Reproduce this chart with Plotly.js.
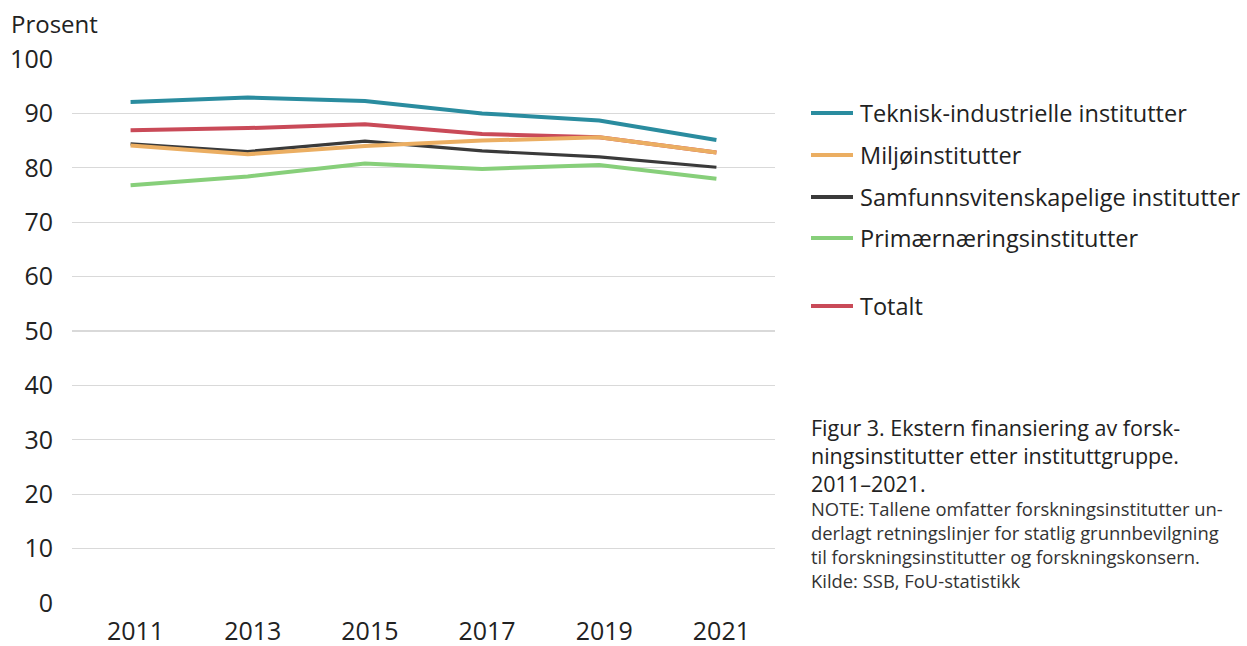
<!DOCTYPE html>
<html><head><meta charset="utf-8">
<script src="https://cdn.plot.ly/plotly-3.0.1.min.js"></script>
<style>body{margin:0;background:#fff}#c{width:1247px;height:646px}</style>
</head><body><div id="c"></div>
<script>
const years = ['2011','2013','2015','2017','2019','2021'];
const names = ['Teknisk-industrielle institutter','Miljøinstitutter','Samfunnsvitenskapelige institutter','Primærnæringsinstitutter','Totalt'];
const teknisk = [92.1, 92.9, 92.3, 90.0, 88.7, 85.1];
const miljo   = [84.1, 82.5, 84.0, 85.0, 85.6, 82.8];
const samfunn = [84.4, 83.0, 84.9, 83.1, 82.0, 80.1];
const primaer = [76.8, 78.4, 80.8, 79.8, 80.5, 78.0];
const totalt  = [86.9, 87.3, 88.0, 86.2, 85.6, 82.8];
const series = [teknisk, miljo, samfunn, primaer, totalt];
const colors = ['#2a8c9f','#ebae62','#3a3a3a','#87cf7a','#c94a58'];
const widths = [4, 4, 3.2, 4, 4];
const drawOrder = [3, 4, 0, 2, 1];
const FONT = '"Open Sans", "Noto Sans", sans-serif';
const TXT = '#222';

const traces = drawOrder.map(i => ({
  x: years, y: series[i], type: 'scatter', mode: 'lines', name: names[i],
  line: {color: colors[i], width: widths[i]}, showlegend: false, hoverinfo: 'skip'
}));

const L = 72, T = 59, W = 703, H = 544;
const px = x => (x - L) / W;
const py = y => (T + H - y) / H;

// manual legend
const legendY = [113, 155, 197, 238, 306];
const shapes = [], annotations = [];
names.forEach((n, i) => {
  shapes.push({type:'line', xref:'paper', yref:'paper', x0: px(811), x1: px(853),
    y0: py(legendY[i]), y1: py(legendY[i]), line:{color: colors[i], width: 4}});
  annotations.push({xref:'paper', yref:'paper', x: px(858), y: py(legendY[i]),
    xanchor:'left', yanchor:'middle', showarrow:false, text:n, font:{family:FONT,size:23.5,color:TXT}});
});
annotations.push({xref:'paper', yref:'paper', x: px(9), y: py(23), xanchor:'left', yanchor:'middle',
  showarrow:false, text:'Prosent', font:{family:FONT,size:24,color:TXT}});
annotations.push({xref:'paper', yref:'paper', x: px(809), y: py(411), xanchor:'left', yanchor:'top',
  showarrow:false, align:'left',
  text:'Figur 3. Ekstern finansiering av forsk-<br>ningsinstitutter etter instituttgruppe.<br>2011–2021.',
  font:{family:FONT,size:21.5,color:TXT}});
annotations.push({xref:'paper', yref:'paper', x: px(809), y: py(494), xanchor:'left', yanchor:'top',
  showarrow:false, align:'left',
  text:'NOTE: Tallene omfatter forskningsinstitutter un-<br>derlagt retningslinjer for statlig grunnbevilgning<br>til forskningsinstitutter og forskningskonsern.<br>Kilde: SSB, FoU-statistikk',
  font:{family:FONT,size:18.4,color:'#333'}});

const layout = {
  width:1247, height:646,
  margin:{l:L, r:1247-L-W, t:T, b:646-T-H, pad:0},
  paper_bgcolor:'#fff', plot_bgcolor:'#fff',
  showlegend:false,
  font:{family:FONT, color:TXT},
  xaxis:{type:'category', range:[-0.5, 5.5], showgrid:false, zeroline:false, showline:false, ticks:'',
    tickfont:{family:FONT,size:25,color:TXT}, ticklabelstandoff:11, ticklabelshift:5, fixedrange:true},
  yaxis:{range:[0,100], dtick:10, showgrid:true, gridcolor:'#d9d9d9', gridwidth:1.3,
    zeroline:false, showline:false, ticks:'', tickfont:{family:FONT,size:25,color:TXT},
    ticklabelstandoff:18, fixedrange:true},
  shapes, annotations
};
Plotly.newPlot('c', traces, layout, {staticPlot:true, displayModeBar:false});
</script></body></html>
